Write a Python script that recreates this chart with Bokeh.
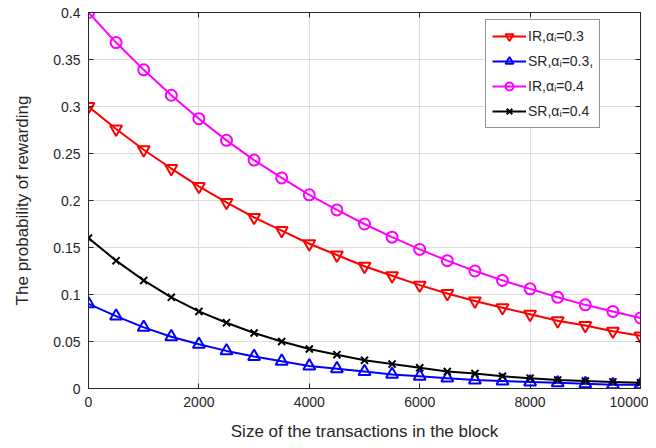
from bokeh.plotting import figure
from bokeh.models import LinearAxis, Range1d, FixedTicker, Legend, LegendItem
from bokeh.embed import file_html
from bokeh.resources import INLINE

x = [0, 500, 1000, 1500, 2000, 2500, 3000, 3500, 4000, 4500, 5000,
     5500, 6000, 6500, 7000, 7500, 8000, 8500, 9000, 9500, 10000]
ir_03 = [0.300, 0.276, 0.254, 0.234, 0.215, 0.198, 0.182, 0.168, 0.154, 0.142, 0.130,
         0.120, 0.110, 0.101, 0.093, 0.086, 0.079, 0.072, 0.067, 0.061, 0.056]
sr_03 = [0.090, 0.077, 0.065, 0.055, 0.047, 0.040, 0.034, 0.029, 0.024, 0.021, 0.018,
         0.015, 0.013, 0.011, 0.009, 0.008, 0.007, 0.006, 0.005, 0.004, 0.004]
ir_04 = [0.400, 0.368, 0.339, 0.312, 0.287, 0.264, 0.243, 0.224, 0.206, 0.190, 0.175,
         0.161, 0.148, 0.136, 0.125, 0.115, 0.106, 0.097, 0.089, 0.082, 0.075]
sr_04 = [0.160, 0.136, 0.115, 0.097, 0.082, 0.070, 0.059, 0.050, 0.042, 0.036, 0.030,
         0.026, 0.022, 0.018, 0.016, 0.013, 0.011, 0.009, 0.008, 0.007, 0.006]
labels = ["IR,\u03b1\u1d62=0.3", "SR,\u03b1\u1d62=0.3,", "IR,\u03b1\u1d62=0.4", "SR,\u03b1\u1d62=0.4"]
x_ticks = [0, 2000, 4000, 6000, 8000, 10000]
y_ticks = [0, 0.05, 0.1, 0.15, 0.2, 0.25, 0.3, 0.35, 0.4]

FONT = "Liberation Sans"

p = figure(width=648, height=444, output_backend="svg", toolbar_location=None,
           x_range=Range1d(0, 10000), y_range=Range1d(0, 0.4),
           min_border_left=88, min_border_right=8, min_border_top=12, min_border_bottom=56)
p.outline_line_color = "#262626"
p.outline_line_width = 1

for ax in (p.xaxis[0], p.yaxis[0]):
    ax.major_tick_in = 5
    ax.major_tick_out = 0
    ax.minor_tick_line_color = None
    ax.axis_line_color = "#262626"
    ax.major_tick_line_color = "#262626"
    ax.major_label_text_font = FONT
    ax.major_label_text_font_size = "14px"
    ax.major_label_text_color = "#262626"
    ax.axis_label_text_font = FONT
    ax.axis_label_text_font_size = "17px"
    ax.axis_label_text_font_style = "normal"
    ax.axis_label_text_color = "#262626"

p.xaxis[0].ticker = FixedTicker(ticks=x_ticks)
p.yaxis[0].ticker = FixedTicker(ticks=y_ticks)
p.yaxis[0].major_label_overrides = {0: "0", 0.05: "0.05", 0.1: "0.1", 0.15: "0.15", 0.2: "0.2",
                                    0.25: "0.25", 0.3: "0.3", 0.35: "0.35", 0.4: "0.4"}
p.xaxis[0].axis_label = "Size of the transactions in the block"
p.yaxis[0].axis_label = "The probability of rewarding"
p.xaxis[0].major_label_standoff = 8
p.yaxis[0].major_label_standoff = 8
p.xaxis[0].axis_label_standoff = 12
p.yaxis[0].axis_label_standoff = 18

top = LinearAxis(ticker=FixedTicker(ticks=x_ticks),
                 major_label_overrides={t: "" for t in x_ticks},
                 major_tick_in=5, major_tick_out=0, minor_tick_line_color=None,
                 axis_line_color="#262626", major_tick_line_color="#262626")
right = LinearAxis(ticker=FixedTicker(ticks=y_ticks),
                   major_label_overrides={t: "" for t in y_ticks},
                   major_tick_in=5, major_tick_out=0, minor_tick_line_color=None,
                   axis_line_color="#262626", major_tick_line_color="#262626")
p.add_layout(top, "above")
p.add_layout(right, "right")

p.xgrid.ticker = FixedTicker(ticks=x_ticks)
p.ygrid.ticker = FixedTicker(ticks=y_ticks)
p.grid.grid_line_color = "#dcdcdc"
p.grid.grid_line_width = 1

series = [
    (ir_03, "red", "inverted_triangle", 12),
    (sr_03, "blue", "triangle", 12),
    (ir_04, "magenta", "circle", 11),
    (sr_04, "black", "x", 10),
]
items = []
for (ys, col, mk, sz), lab in zip(series, labels):
    l = p.line(x, ys, line_color=col, line_width=2)
    s = p.scatter(x, ys, marker=mk, size=sz, line_color=col, fill_color=None, line_width=2)
    items.append(LegendItem(label=lab, renderers=[l, s]))

legend = Legend(items=items, location=(397, 260), border_line_color="#262626",
                border_line_width=1, background_fill_color="white", background_fill_alpha=1,
                label_text_font=FONT, label_text_font_size="14px", label_text_color="#262626",
                glyph_width=34, glyph_height=20, spacing=5, padding=6, margin=0,
                label_standoff=2)
p.add_layout(legend, "center")

open("out.html", "w").write(file_html(p, INLINE))
